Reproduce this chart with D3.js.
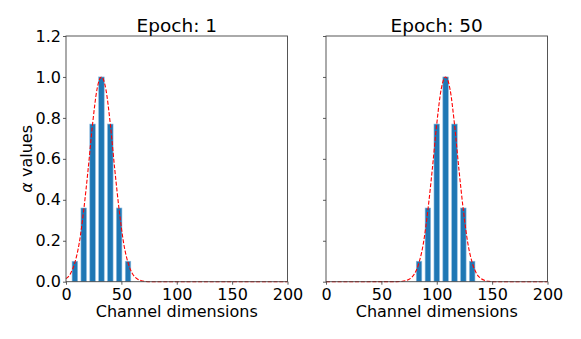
<!DOCTYPE html>
<html>
<head>
<meta charset="utf-8">
<script src="https://cdn.jsdelivr.net/npm/d3@7"></script>
<style>
  body { margin: 0; background: #fff; }
  text { font-family: "DejaVu Sans", sans-serif; fill: #000; }
</style>
</head>
<body>
<div id="chart"></div>
<script>
// bar positions (channel index) and alpha values for each epoch
var epochs = ["Epoch: 1", "Epoch: 50"];
var leftPos = [8, 16, 24, 32, 40, 48, 56];
var leftAlpha = [0.1, 0.36, 0.77, 1.0, 0.77, 0.36, 0.1];
var rightPos = [84, 92, 100, 108, 116, 124, 132];
var rightAlpha = [0.1, 0.36, 0.77, 1.0, 0.77, 0.36, 0.1];

// fitted curve
var leftCurveX = [0, 4, 8, 12, 16, 20, 24, 28, 32, 36, 40, 44, 48, 52, 56, 60, 64, 68, 72, 76, 200];
var leftCurveY = [0.015, 0.039, 0.093, 0.19, 0.35, 0.55, 0.77, 0.94, 1.0, 0.94, 0.77, 0.55, 0.35, 0.19, 0.093, 0.039, 0.015, 0.005, 0.0013, 0, 0];
var rightCurveX = [0, 64, 68, 72, 76, 80, 84, 88, 92, 96, 100, 104, 108, 112, 116, 120, 124, 128, 132, 136, 140, 144, 148, 152, 200];
var rightCurveY = [0, 0.0003, 0.0013, 0.005, 0.015, 0.039, 0.093, 0.19, 0.35, 0.55, 0.77, 0.94, 1.0, 0.94, 0.77, 0.55, 0.35, 0.19, 0.093, 0.039, 0.015, 0.005, 0.0013, 0, 0];

var xTicks = [0, 50, 100, 150, 200];
var yTicks = [0, 0.2, 0.4, 0.6, 0.8, 1.0, 1.2];

var width = 581, height = 339;
var panelLeft = [66, 326], panelW = 221.5;
var plotTop = 36, plotBottom = 281.7;

var svg = d3.select("#chart").append("svg")
    .attr("width", width)
    .attr("height", height);

var y = d3.scaleLinear().domain([0, 1.2]).range([plotBottom, plotTop]);

var panels = [
    {pos: leftPos, alpha: leftAlpha, cx: leftCurveX, cy: leftCurveY},
    {pos: rightPos, alpha: rightAlpha, cx: rightCurveX, cy: rightCurveY}
];

panels.forEach(function(p, i) {
    var x = d3.scaleLinear().domain([0, 200]).range([panelLeft[i], panelLeft[i] + panelW]);
    var g = svg.append("g");

    // bars
    g.selectAll(".bar")
        .data(p.pos)
        .enter().append("rect")
        .attr("class", "bar")
        .attr("x", function(d) { return x(d - 2.5); })
        .attr("width", x(5) - x(0))
        .attr("y", function(d, j) { return y(p.alpha[j]); })
        .attr("height", function(d, j) { return plotBottom - y(p.alpha[j]); })
        .style("fill", "#1f77b4")
        .style("stroke", "#8dbbe0")
        .style("stroke-width", 0.6);

    // dashed fit
    var line = d3.line()
        .x(function(d) { return x(d); })
        .y(function(d, j) { return y(p.cy[j]); })
        .curve(d3.curveMonotoneX);

    g.append("path")
        .attr("d", line(p.cx))
        .style("fill", "none")
        .style("stroke", "#ff0000")
        .style("stroke-width", 1.1)
        .style("stroke-dasharray", "4,1.8");

    // axes
    var xAxis = d3.axisBottom(x).tickValues(xTicks).tickSize(3).tickPadding(4);
    var gx = g.append("g")
        .attr("transform", "translate(0," + plotBottom + ")")
        .call(xAxis);
    gx.select(".domain").remove();
    gx.selectAll("text").style("font-size", "16px").style("font-family", "DejaVu Sans");
    gx.selectAll("line").style("stroke", "#333").style("stroke-width", 0.8);

    var yAxis = d3.axisLeft(y).tickValues(yTicks).tickSize(3).tickPadding(2)
        .tickFormat(i === 0 ? d3.format(".1f") : "");
    var gy = g.append("g")
        .attr("transform", "translate(" + panelLeft[i] + ",0)")
        .call(yAxis);
    gy.select(".domain").remove();
    gy.selectAll("text").style("font-size", "16px").style("font-family", "DejaVu Sans");
    gy.selectAll("line").style("stroke", "#333").style("stroke-width", 0.8);

    // frame
    g.append("rect")
        .attr("x", panelLeft[i])
        .attr("y", plotTop)
        .attr("width", panelW)
        .attr("height", plotBottom - plotTop)
        .style("fill", "none")
        .style("stroke", "#444")
        .style("stroke-width", 0.9);

    // title
    g.append("text")
        .attr("x", panelLeft[i] + panelW / 2)
        .attr("y", 32.3)
        .attr("text-anchor", "middle")
        .style("font-size", "18.5px")
        .text(epochs[i]);

    // x label
    g.append("text")
        .attr("x", panelLeft[i] + panelW / 2)
        .attr("y", 317)
        .attr("text-anchor", "middle")
        .style("font-size", "16px")
        .text("Channel dimensions");
});

// y label
var yl = svg.append("text")
    .attr("transform", "translate(32," + ((plotTop + plotBottom) / 2) + ") rotate(-90)")
    .attr("text-anchor", "middle")
    .style("font-size", "16px");
yl.append("tspan").style("font-style", "italic").text("α");
yl.append("tspan").text(" values");
</script>
</body>
</html>
